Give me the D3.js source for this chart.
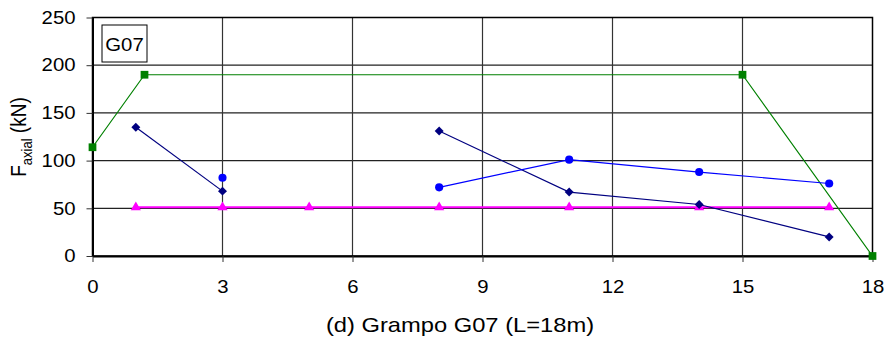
<!DOCTYPE html>
<html>
<head>
<meta charset="utf-8">
<script src="https://cdn.jsdelivr.net/npm/d3@7"></script>
<style>
  body { margin: 0; background: #fff; }
  svg text { font-family: "Liberation Sans", Arial, sans-serif; fill: #000; }
</style>
</head>
<body>
<div id="chart"></div>
<script>
// values
var xTicks = [0, 3, 6, 9, 12, 15, 18];
var yTicks = [0, 50, 100, 150, 200, 250];

var greenX = [0, 1.2, 15, 18];
var greenY = [114, 190, 190, 0];

var navyAX = [1, 3];
var navyAY = [135, 68];
var navyBX = [8, 11, 14, 17];
var navyBY = [131, 67, 54, 20];

var blueAX = [3];
var blueAY = [82];
var blueBX = [8, 11, 14, 17];
var blueBY = [72, 101, 88, 76];

var pinkX = [1, 3, 5, 8, 11, 14, 17];
var pinkY = [51, 51, 51, 51, 51, 51, 51];

var tag = "G07";
var xTitle = "(d) Grampo G07 (L=18m)";

// the original picture is a little stretched sideways
var sx = 1.13;

var margin = { top: 17.5, right: 15, bottom: 87, left: 92.5 };

var svg = d3.select("#chart")
    .append("svg")
    .attr("width", 887)
    .attr("height", 343);

var g = svg.append("g")
    .attr("transform", "translate(" + margin.left + "," + margin.top + ")");

var x = d3.scaleLinear().domain([0, 18]).range([0, 780]);
var y = d3.scaleLinear().domain([0, 250]).range([238.5, 0]);

function zip(xs, ys) {
    return xs.map(function (v, i) { return [v, ys[i]]; });
}

// grid
g.selectAll(".hgrid")
    .data(yTicks.filter(function (d) { return d > 0 && d < 250; }))
    .enter().append("line")
    .attr("x1", 0).attr("x2", x(18))
    .attr("y1", function (d) { return y(d); })
    .attr("y2", function (d) { return y(d); })
    .attr("stroke", "#222").attr("stroke-width", 1.3);

g.selectAll(".vgrid")
    .data(xTicks.filter(function (d) { return d > 0 && d < 18; }))
    .enter().append("line")
    .attr("y1", 0).attr("y2", y(0))
    .attr("x1", function (d) { return x(d); })
    .attr("x2", function (d) { return x(d); })
    .attr("stroke", "#333").attr("stroke-width", 1.2);

// frame
g.append("rect")
    .attr("x", 0).attr("y", 0)
    .attr("width", x(18)).attr("height", y(0))
    .attr("fill", "none").attr("stroke", "#000").attr("stroke-width", 1.5);

// axes
var xAxis = g.append("g")
    .attr("transform", "translate(0," + y(0) + ")")
    .call(d3.axisBottom(x).tickValues(xTicks).tickSize(6).tickSizeOuter(0).tickPadding(18));
xAxis.select(".domain").attr("stroke", "#000").attr("stroke-width", 2);
xAxis.selectAll("line").attr("stroke", "#333");
xAxis.selectAll("text")
    .style("font-size", "18px").style("fill", "#000")
    .attr("transform", "scale(" + sx + ",1)");

var yAxis = g.append("g")
    .call(d3.axisLeft(y).tickValues(yTicks).tickSize(6).tickSizeOuter(0).tickPadding(11));
yAxis.select(".domain").attr("stroke", "#000").attr("stroke-width", 2);
yAxis.selectAll("line").attr("stroke", "#333");
yAxis.selectAll("text")
    .style("font-size", "18px").style("fill", "#000")
    .attr("transform", "translate(-17,0) scale(" + sx + ",1) translate(17,0)");

var line = d3.line()
    .x(function (d) { return x(d[0]); })
    .y(function (d) { return y(d[1]); });

function drawSeries(pts, color, symbol, size, lw, rot) {
    g.append("path")
        .datum(pts)
        .attr("d", line)
        .attr("fill", "none")
        .attr("stroke", color)
        .attr("stroke-width", lw);
    g.selectAll(null)
        .data(pts)
        .enter().append("path")
        .attr("d", d3.symbol().type(symbol).size(size))
        .attr("transform", function (d) {
            return "translate(" + x(d[0]) + "," + y(d[1]) + ") rotate(" + (rot || 0) + ")";
        })
        .attr("fill", color);
}

drawSeries(zip(pinkX, pinkY), "#ff00ff", d3.symbolTriangle, 45, 2);
drawSeries(zip(greenX, greenY), "#008000", d3.symbolSquare, 60, 1.2);
drawSeries(zip(navyAX, navyAY), "#000080", d3.symbolSquare, 40, 1.2, 45);
drawSeries(zip(navyBX, navyBY), "#000080", d3.symbolSquare, 40, 1.2, 45);
drawSeries(zip(blueAX, blueAY), "#0000ff", d3.symbolCircle, 52, 1.2);
drawSeries(zip(blueBX, blueBY), "#0000ff", d3.symbolCircle, 52, 1.2);

// tag box
g.append("rect")
    .attr("x", 9.5).attr("y", 7.5)
    .attr("width", 45).attr("height", 37)
    .attr("fill", "#fff").attr("stroke", "#000").attr("stroke-width", 1);
g.append("text")
    .attr("text-anchor", "middle")
    .attr("transform", "translate(32,33) scale(" + sx + ",1)")
    .style("font-size", "18px")
    .text(tag);

// titles
svg.append("text")
    .attr("text-anchor", "middle")
    .attr("transform", "translate(460,332) scale(" + sx + ",1)")
    .style("font-size", "21px")
    .text(xTitle);

var yt = svg.append("text")
    .attr("transform", "translate(26,137) rotate(-90) scale(1," + sx + ")")
    .attr("text-anchor", "middle")
    .style("font-size", "19px");
yt.append("tspan").text("F");
yt.append("tspan").attr("dy", 5).style("font-size", "13px").text("axial");
yt.append("tspan").attr("dy", -5).text(" (kN)");
</script>
</body>
</html>
